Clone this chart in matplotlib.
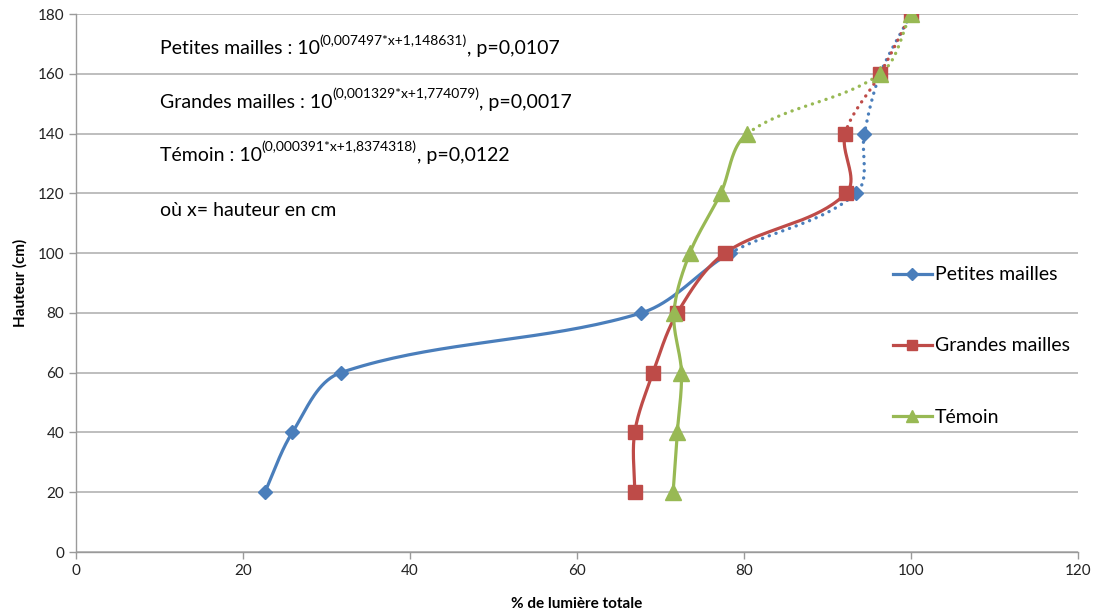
import numpy as np
import matplotlib
matplotlib.use("Agg")
import matplotlib.pyplot as plt

# hauteur (cm) et % de lumière totale
hauteur = [20, 40, 60, 80, 100, 120, 140, 160, 180]
petites = [22.6, 25.9, 31.7, 67.7, 78.3, 93.4, 94.4, 96.3, 100]
grandes = [66.9, 66.9, 69.1, 72.0, 77.7, 92.2, 92.1, 96.3, 100]
temoin = [71.5, 72.0, 72.5, 71.6, 73.5, 77.2, 80.4, 96.3, 100]

noms = ["Petites mailles", "Grandes mailles", "Témoin"]
# dernier point du trait plein (indice), ensuite pointillé
fin_plein = [4, 6, 6]

equations = [
    ("Petites mailles : 10", "(0,007497*x+1,148631)", ", p=0,0107"),
    ("Grandes mailles : 10", "(0,001329*x+1,774079)", ", p=0,0017"),
    ("Témoin : 10", "(0,000391*x+1,8374318)", ", p=0,0122"),
]
note = "où x= hauteur en cm"

couleurs = ["#4A7EBB", "#BE4B48", "#98B954"]
marqueurs = [("D", 7.5), ("s", 10), ("^", 11)]

plt.rcParams['font.family'] = ['Lato', 'DejaVu Sans']

fig = plt.figure(figsize=(10.99, 6.15), dpi=100)
ax = fig.add_axes([0.0692, 0.1024, 0.9118, 0.8748])
ax.set_xlim(0, 120)
ax.set_ylim(0, 180)


def lisser(xs, ys, sx, sy, n=40):
    # courbe lissée (Bezier), tangentes limitées par la longueur des segments
    P = np.column_stack([np.array(xs) * sx, np.array(ys) * sy])
    m = len(P)
    tang = []
    for i in range(m):
        a = P[max(i - 1, 0)]
        b = P[min(i + 1, m - 1)]
        d = b - a
        tang.append(d / np.linalg.norm(d))
    segs = []
    for i in range(m - 1):
        p1, p2 = P[i], P[i + 1]
        L = np.linalg.norm(p2 - p1)
        c1 = p1 + tang[i] * L * 0.33
        c2 = p2 - tang[i + 1] * L * 0.33
        t = np.linspace(0, 1, n)[:, None]
        b = ((1 - t) ** 3) * p1 + 3 * ((1 - t) ** 2) * t * c1 + 3 * (1 - t) * t ** 2 * c2 + t ** 3 * p2
        segs.append(np.column_stack([b[:, 0] / sx, b[:, 1] / sy]))
    return segs


bbox = ax.get_window_extent()
sx = bbox.width / 120.0
sy = bbox.height / 180.0

for vals, nom, col, (mk, ms), fp in zip([petites, grandes, temoin], noms, couleurs, marqueurs, fin_plein):
    segs = lisser(vals, hauteur, sx, sy)
    plein = np.vstack(segs[:fp])
    ax.plot(plein[:, 0], plein[:, 1], color=col, lw=2.3, solid_capstyle='round', zorder=3)
    poin = np.vstack(segs[fp:])
    ax.plot(poin[:, 0], poin[:, 1], color=col, lw=2.4, linestyle=(0, (0.05, 2.1)),
            dash_capstyle='round', zorder=3)
    ax.plot(vals, hauteur, linestyle='none', marker=mk, markersize=ms, color=col, zorder=4)
    ax.plot([], [], color=col, lw=2.3, marker=mk, markersize=ms * 0.75, label=nom)

# axes style Excel
ax.yaxis.grid(True, color="#B3B3B3", lw=1.2)
ax.set_axisbelow(True)
for s in ['top', 'right']:
    ax.spines[s].set_visible(False)
for s in ['left', 'bottom']:
    ax.spines[s].set_color("#9A9A9A")
    ax.spines[s].set_linewidth(1.0)
ax.set_xticks(np.arange(0, 121, 20))
ax.set_yticks(np.arange(0, 181, 20))
ax.tick_params(colors="#9A9A9A", length=5, width=1.0, labelcolor="#222222", labelsize=11)
ax.set_xlabel("% de lumière totale", fontsize=11, fontweight='bold', labelpad=14)
ax.set_ylabel("Hauteur (cm)", fontsize=11, fontweight='bold', labelpad=7)

# equations
ys_eq = [168.3, 150.5, 132.8]
for (a, b, c), yy in zip(equations, ys_eq):
    t1 = ax.text(10.0, yy, a, fontsize=14, va='center', ha='left')
    t2 = ax.annotate(b, xy=(1, 0.6), xycoords=t1, fontsize=10, va='bottom', ha='left')
    ax.annotate(c, xy=(1, 0), xycoords=(t2, t1), fontsize=14, va='bottom', ha='left')
ax.text(10.0, 114.2, note, fontsize=14, va='center', ha='left')

ax.legend(loc='center left', bbox_to_anchor=(0.815, 0.383), frameon=False,
          fontsize=14, labelspacing=2.78, handlelength=2.0, handletextpad=0.15,
          borderpad=0, borderaxespad=0)

fig.savefig("out.png", dpi=100)
